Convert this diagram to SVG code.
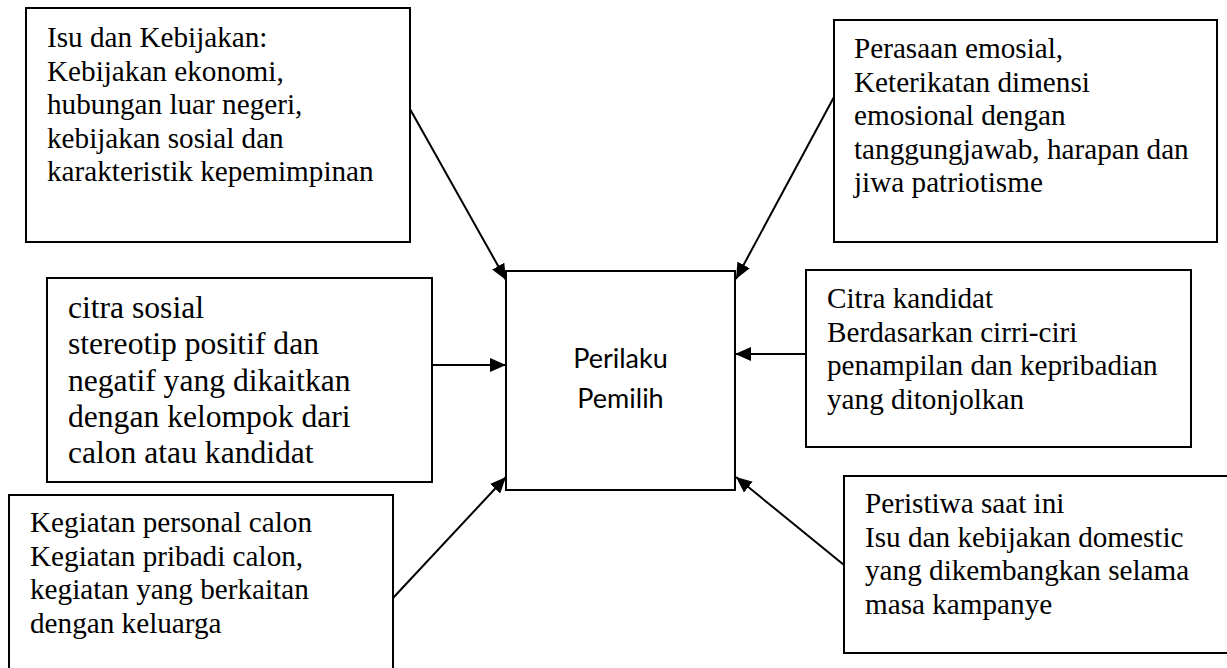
<svg xmlns="http://www.w3.org/2000/svg" width="1227" height="668" viewBox="0 0 1227 668">
<style>
.box{fill:#fff;stroke:#000;stroke-width:2}
.t{font-family:"Liberation Serif","Times New Roman",serif;font-size:29.2px;fill:#000}
.t2{font-family:"Liberation Serif","Times New Roman",serif;font-size:31.6px;fill:#000}
.c{font-family:Lato,"Open Sans",sans-serif;font-size:27px;fill:#000;text-anchor:middle}
.conn{stroke:#000;stroke-width:2;fill:none;marker-end:url(#ah)}
</style>
<defs>
<marker id="ah" markerUnits="userSpaceOnUse" markerWidth="18" markerHeight="14" refX="16" refY="7" orient="auto">
<path d="M0,0 L16,7 L0,14 z" fill="#000"/>
</marker>
</defs>
<rect width="1227" height="668" fill="#fff"/>
<g id="connectors">
<line class="conn" x1="410" y1="109" x2="506" y2="280"/>
<line class="conn" x1="834" y1="97" x2="736" y2="279"/>
<line class="conn" x1="432" y1="365" x2="506" y2="365"/>
<line class="conn" x1="806" y1="354" x2="735" y2="354"/>
<line class="conn" x1="393" y1="598" x2="506" y2="477"/>
<line class="conn" x1="844" y1="565" x2="736" y2="477"/>
</g>
<g id="node-isu">
<rect class="box" x="26" y="8" width="384" height="234"/>
<text class="t"><tspan x="47" y="47">Isu dan Kebijakan:</tspan><tspan x="47" y="80.6">Kebijakan ekonomi,</tspan><tspan x="47" y="114.2">hubungan luar negeri,</tspan><tspan x="47" y="147.8">kebijakan sosial dan</tspan><tspan x="47" y="181.4">karakteristik kepemimpinan</tspan></text>
</g>
<g id="node-perasaan">
<rect class="box" x="834" y="20" width="383" height="222"/>
<text class="t"><tspan x="854" y="58">Perasaan emosial,</tspan><tspan x="854" y="91.6">Keterikatan dimensi</tspan><tspan x="854" y="125.2">emosional dengan</tspan><tspan x="854" y="158.8">tanggungjawab, harapan dan</tspan><tspan x="854" y="192.4">jiwa patriotisme</tspan></text>
</g>
<g id="node-citra-sosial">
<rect class="box" x="47" y="278" width="385" height="204"/>
<text class="t2"><tspan x="68" y="318">citra sosial</tspan><tspan x="68" y="354.3">stereotip positif dan</tspan><tspan x="68" y="390.6">negatif yang dikaitkan</tspan><tspan x="68" y="426.9">dengan kelompok dari</tspan><tspan x="68" y="463.2">calon atau kandidat</tspan></text>
</g>
<g id="node-perilaku">
<rect class="box" x="506" y="271" width="229" height="219"/>
<text class="c"><tspan x="620.5" y="368">Perilaku</tspan><tspan x="620.5" y="408">Pemilih</tspan></text>
</g>
<g id="node-citra-kandidat">
<rect class="box" x="806" y="270" width="385" height="177"/>
<text class="t"><tspan x="827" y="308">Citra kandidat</tspan><tspan x="827" y="341.6">Berdasarkan cirri-ciri</tspan><tspan x="827" y="375.2">penampilan dan kepribadian</tspan><tspan x="827" y="408.8">yang ditonjolkan</tspan></text>
</g>
<g id="node-kegiatan">
<rect class="box" x="9" y="495" width="384" height="190"/>
<text class="t"><tspan x="30" y="532">Kegiatan personal calon</tspan><tspan x="30" y="565.6">Kegiatan pribadi calon,</tspan><tspan x="30" y="599.2">kegiatan yang berkaitan</tspan><tspan x="30" y="632.8">dengan keluarga</tspan></text>
</g>
<g id="node-peristiwa">
<rect class="box" x="844" y="476" width="400" height="177"/>
<text class="t"><tspan x="865" y="513">Peristiwa saat ini</tspan><tspan x="865" y="546.6">Isu dan kebijakan domestic</tspan><tspan x="865" y="580.2">yang dikembangkan selama</tspan><tspan x="865" y="613.8">masa kampanye</tspan></text>
</g>
</svg>
